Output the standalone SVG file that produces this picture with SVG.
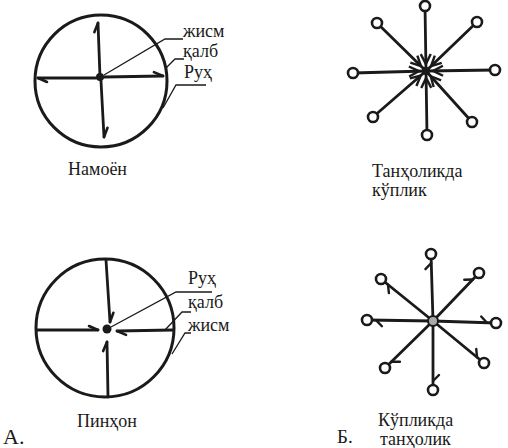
<svg xmlns="http://www.w3.org/2000/svg" width="508" height="448" viewBox="0 0 508 448">
<style>
.ring{fill:none;stroke:#1a1a1a;stroke-width:3}
.spoke{fill:none;stroke:#1a1a1a;stroke-width:2.8;stroke-linecap:round}
.lead{fill:none;stroke:#1a1a1a;stroke-width:1.3}
.dot{fill:#1a1a1a}
.end{fill:#fff;stroke:#1a1a1a;stroke-width:2.6}
.hub{fill:#aaa;stroke:#1a1a1a;stroke-width:2}
.t{font-family:'Liberation Serif','DejaVu Serif','Times New Roman',serif;fill:#1a1a1a;font-size:18px}
</style>
<defs>
<marker id="half" markerUnits="userSpaceOnUse" orient="auto" overflow="visible" refX="0" refY="0" markerWidth="1" markerHeight="1">
<path d="M0,0 L-9,-4" fill="none" stroke="#1a1a1a" stroke-width="2.6" stroke-linecap="round"/>
</marker>
<marker id="vin" markerUnits="userSpaceOnUse" orient="auto" overflow="visible" refX="0" refY="0" markerWidth="1" markerHeight="1">
<path d="M-17,-5 L-7,0 L-17,5" fill="none" stroke="#1a1a1a" stroke-width="2.4"/>
</marker>
<marker id="barb" markerUnits="userSpaceOnUse" orient="auto" overflow="visible" refX="0" refY="0" markerWidth="1" markerHeight="1">
<path d="M-9,0 L-15,-6" fill="none" stroke="#1a1a1a" stroke-width="2.4" stroke-linecap="round"/>
</marker>
</defs>
<rect width="508" height="448" fill="#fff"/>

<g id="namoyon">
<circle class="ring" cx="101" cy="81" r="66"/>
<g id="namoyon-connectors">
<path class="spoke" d="M100,77 L98,23" marker-end="url(#half)"/>
<path class="spoke" d="M101,81 L104,137" marker-end="url(#half)"/>
<path class="spoke" d="M96,78 L38,78" marker-end="url(#half)"/>
<path class="spoke" d="M104,77 L163,76" marker-end="url(#half)"/>
<path class="lead" d="M104,75 L165,39 L183,39"/>
<path class="lead" d="M166,68 L175,59 L184,59"/>
<path class="lead" d="M163,108 L176,85 L206,85"/>
</g>
<circle class="dot" cx="100" cy="77" r="4"/>
<text class="t" x="183" y="37">жисм</text>
<text class="t" x="183" y="57">қалб</text>
<text class="t" x="184" y="78">Руҳ</text>
<text class="t" x="68" y="175">Намоён</text>
</g>

<g id="pinhon">
<circle class="ring" cx="105" cy="328" r="69"/>
<g id="pinhon-connectors">
<path class="spoke" d="M106,260 L110,322" marker-end="url(#half)"/>
<path class="spoke" d="M108,397 L107,342" marker-end="url(#half)"/>
<path class="spoke" d="M37,330 L98,330" marker-end="url(#half)"/>
<path class="spoke" d="M173,330 L117,331" marker-end="url(#half)"/>
<path class="lead" d="M111,327 L176,292 L212,292"/>
<path class="lead" d="M165,330 L182,312 L191,312"/>
<path class="lead" d="M172,354 L185,333 L191,333"/>
</g>
<circle class="dot" cx="107" cy="329" r="4.5"/>
<text class="t" x="188" y="284">Руҳ</text>
<text class="t" x="188" y="308">қалб</text>
<text class="t" x="188" y="331">жисм</text>
<text class="t" x="77" y="427">Пинҳон</text>
</g>

<g id="tanholikda-kuplik">
<g id="star1-connectors">
<path class="spoke" d="M425,5 L426,71" marker-end="url(#vin)"/>
<path class="spoke" d="M477,22 L426,71" marker-end="url(#vin)"/>
<path class="spoke" d="M495,70 L426,71" marker-end="url(#vin)"/>
<path class="spoke" d="M472,122 L426,71" marker-end="url(#vin)"/>
<path class="spoke" d="M427,135 L426,71" marker-end="url(#vin)"/>
<path class="spoke" d="M373,117 L426,71" marker-end="url(#vin)"/>
<path class="spoke" d="M353,73 L426,71" marker-end="url(#vin)"/>
<path class="spoke" d="M377,23 L426,71" marker-end="url(#vin)"/>
</g>
<circle class="dot" cx="426" cy="71" r="4"/>
<circle class="end" cx="425" cy="6" r="5"/>
<circle class="end" cx="477" cy="22" r="5"/>
<circle class="end" cx="495" cy="70" r="5"/>
<circle class="end" cx="472" cy="122" r="5"/>
<circle class="end" cx="427" cy="135" r="5"/>
<circle class="end" cx="373" cy="117" r="5"/>
<circle class="end" cx="353" cy="73" r="5"/>
<circle class="end" cx="377" cy="23" r="5"/>
<text class="t" x="372" y="177">Танҳоликда</text>
<text class="t" x="372" y="196">кўплик</text>
</g>

<g id="kuplikda-tanholik">
<g id="star2-connectors">
<path class="spoke" d="M433,321 L431,254" marker-end="url(#barb)"/>
<path class="spoke" d="M433,321 L479,273" marker-end="url(#barb)"/>
<path class="spoke" d="M433,321 L496,323" marker-end="url(#barb)"/>
<path class="spoke" d="M433,321 L484,363" marker-end="url(#barb)"/>
<path class="spoke" d="M433,321 L433,390" marker-end="url(#barb)"/>
<path class="spoke" d="M433,321 L385,368" marker-end="url(#barb)"/>
<path class="spoke" d="M433,321 L367,320" marker-end="url(#barb)"/>
<path class="spoke" d="M433,321 L381,279" marker-end="url(#barb)"/>
</g>
<circle class="hub" cx="433" cy="321" r="5"/>
<circle class="end" cx="431" cy="254" r="5"/>
<circle class="end" cx="479" cy="273" r="5"/>
<circle class="end" cx="496" cy="323" r="5"/>
<circle class="end" cx="484" cy="363" r="5"/>
<circle class="end" cx="433" cy="390" r="5"/>
<circle class="end" cx="385" cy="368" r="5"/>
<circle class="end" cx="367" cy="320" r="5"/>
<circle class="end" cx="381" cy="279" r="5"/>
<text class="t" x="378" y="426">Кўпликда</text>
<text class="t" x="380" y="445">танҳолик</text>
</g>

<g id="labels">
<text class="t" x="3" y="444" style="font-size:22px">А.</text>
<text class="t" x="337" y="443" style="font-size:19px">Б.</text>
</g>
</svg>
